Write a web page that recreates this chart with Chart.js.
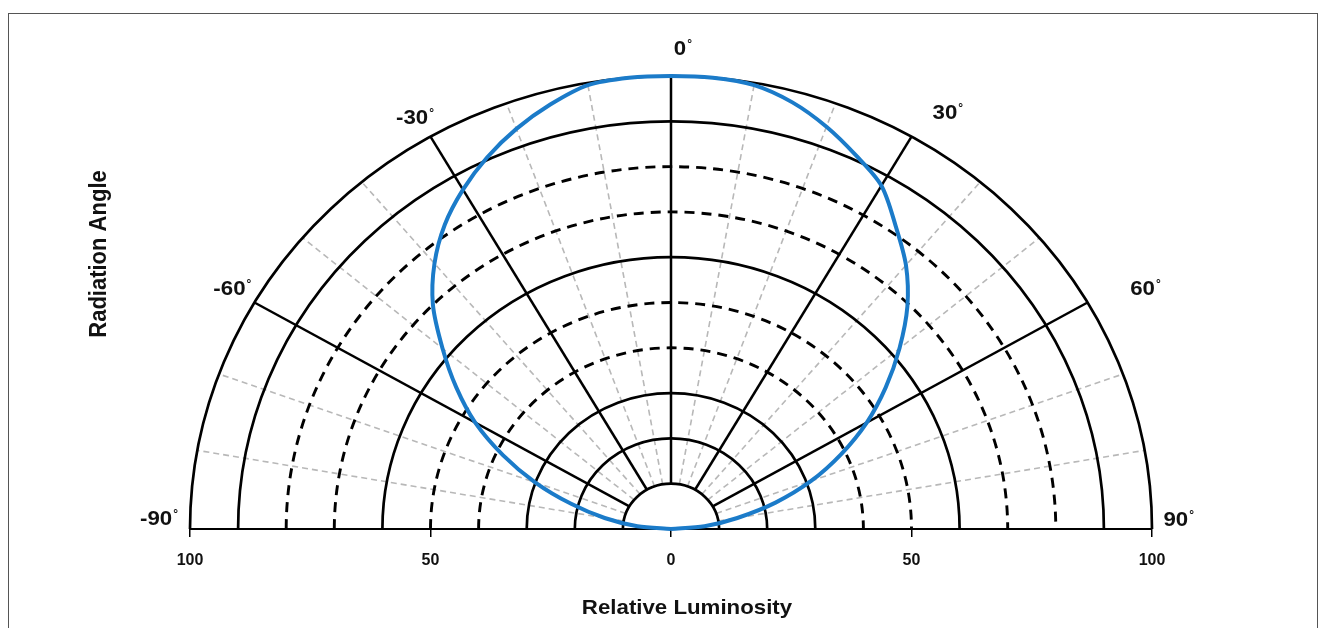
<!DOCTYPE html>
<html>
<head>
<meta charset="utf-8">
<title>Radiation pattern</title>
<script src="https://cdn.jsdelivr.net/npm/chart.js@4.4.1/dist/chart.umd.min.js"></script>
<style>
    html, body { margin: 0; padding: 0; background: #fff; }
    canvas { display: block; }
</style>
</head>
<body>
<canvas id="patternChart" width="1320" height="628"></canvas>
<script>
// Radiation pattern: angle (deg) -> relative luminosity (%)
const angles = [-90, -85, -80, -75, -70, -65, -60, -55, -50, -45, -40, -35, -30, -25, -20, -15, -10, -5,
    0, 5, 10, 15, 20, 25, 30, 35, 40, 45, 50, 55, 60, 65, 70, 75, 80, 85, 90];
const luminosity = [0, 7, 14, 21.5, 30, 38.5, 47, 54.5, 62, 70, 76.5, 82, 86.5, 90.5, 94, 97, 99.5, 100,
    100, 100, 99.5, 97.5, 94.5, 91, 87.5, 81.5, 76, 69.5, 62, 54.5, 47, 39, 31, 22.5, 14, 7, 0];

// Grid rings (luminosity) and spokes (angle)
const solidRings = [10, 20, 30, 60, 90, 100];
const dashedRings = [40, 50, 70, 80];
const mainSpokes = [-60, -30, 0, 30, 60];
const minorSpokes = [-80, -70, -50, -40, -20, -10, 10, 20, 40, 50, 70, 80];
const angleLabels = [-90, -60, -30, 0, 30, 60, 90];
const rangeTicks = [-100, -50, 0, 50, 100];

const FONT = '"Liberation Sans", Arial, sans-serif';
const STRETCH = 1.06; // the source image is a bit wider than tall

const toRad = d => d * Math.PI / 180;

// polar -> cartesian in data units
const patternPoints = angles.map((a, i) => ({
    x: luminosity[i] * Math.sin(toRad(a)),
    y: luminosity[i] * Math.cos(toRad(a))
}));

// Polar grid drawn under the curve
const polarGrid = {
    id: 'polarGrid',
    beforeDatasetsDraw(chart) {
        const { ctx, scales: { x, y } } = chart;
        const cx = x.getPixelForValue(0);
        const cy = y.getPixelForValue(0);
        const pt = (r, deg) => [
            x.getPixelForValue(r * Math.sin(toRad(deg))),
            y.getPixelForValue(r * Math.cos(toRad(deg)))
        ];
        const inner = solidRings[0];
        const outer = solidRings[solidRings.length - 1];

        const ring = r => {
            ctx.beginPath();
            ctx.ellipse(cx, cy, x.getPixelForValue(r) - cx, cy - y.getPixelForValue(r), 0, Math.PI, 2 * Math.PI);
            ctx.stroke();
        };
        const spoke = d => {
            const [x0, y0] = pt(inner, d);
            const [x1, y1] = pt(outer, d);
            ctx.beginPath();
            ctx.moveTo(x0, y0);
            ctx.lineTo(x1, y1);
            ctx.stroke();
        };

        ctx.save();
        // light grey dashed spokes
        ctx.strokeStyle = '#b8b8b8';
        ctx.lineWidth = 1.6;
        ctx.setLineDash([6, 4]);
        minorSpokes.forEach(spoke);

        // dashed rings
        ctx.strokeStyle = '#000';
        ctx.lineWidth = 2.9;
        ctx.setLineDash([10, 7]);
        dashedRings.forEach(ring);

        // solid rings + main spokes
        ctx.setLineDash([]);
        ctx.lineWidth = 2.7;
        solidRings.forEach(ring);
        ctx.lineWidth = 2.5;
        mainSpokes.forEach(spoke);
        ctx.restore();
    }
};

// draw text slightly stretched horizontally like the source
const drawText = (ctx, text, px, py, font, rotate) => {
    ctx.save();
    ctx.translate(px, py);
    ctx.scale(STRETCH, 1);
    if (rotate) ctx.rotate(rotate);
    ctx.font = font;
    ctx.textAlign = 'center';
    ctx.textBaseline = 'middle';
    ctx.fillText(text, 0, 0);
    ctx.restore();
};

// small nudges so the angle labels sit where they are in the source
const labelNudge = { '-90': [-5, -10], '-30': [-4, 5], '0': [9, 0], '30': [19, 0], '60': [30, 0], '90': [-5, -9] };

const polarLabels = {
    id: 'polarLabels',
    afterDraw(chart) {
        const { ctx, scales: { x, y } } = chart;
        ctx.save();
        ctx.fillStyle = '#111';

        angleLabels.forEach(d => {
            const n = labelNudge[d] || [0, 0];
            const px = x.getPixelForValue(106 * Math.sin(toRad(d))) + n[0];
            const py = y.getPixelForValue(106 * Math.cos(toRad(d))) + n[1];
            const numFont = '700 21px ' + FONT;
            drawText(ctx, String(d), px, py, numFont);
            ctx.font = numFont;
            const w = ctx.measureText(String(d)).width * STRETCH;
            ctx.font = '700 12px ' + FONT;
            ctx.textAlign = 'left';
            ctx.textBaseline = 'alphabetic';
            ctx.fillText('\u00B0', px + w / 2 + 1, py - 1);
        });

        drawText(ctx, 'Relative Luminosity', 687, 608, '700 21px ' + FONT);
        drawText(ctx, 'Radiation Angle', 100, 254, '700 22px ' + FONT, -Math.PI / 2);

        // outer frame
        ctx.strokeStyle = '#555';
        ctx.lineWidth = 1;
        ctx.strokeRect(8.5, 13.5, 1309, 700);
        ctx.restore();
    }
};

const ctx = document.getElementById('patternChart').getContext('2d');
new Chart(ctx, {
    type: 'scatter',
    data: {
        datasets: [{
            label: 'Relative Luminosity',
            data: patternPoints,
            showLine: true,
            borderColor: '#1b7bc9',
            borderWidth: 4,
            pointRadius: 0,
            tension: 0.3,
            fill: false,
            clip: false
        }]
    },
    options: {
        responsive: false,
        animation: false,
        layout: { padding: { left: 190, right: 168, top: 76, bottom: 0 } },
        plugins: {
            legend: { display: false },
            tooltip: { enabled: false }
        },
        scales: {
            x: {
                type: 'linear',
                min: rangeTicks[0],
                max: rangeTicks[rangeTicks.length - 1],
                afterFit: scale => { scale.height = 99; },
                afterBuildTicks: scale => { scale.ticks = rangeTicks.map(v => ({ value: v })); },
                ticks: {
                    color: '#111',
                    padding: 14,
                    font: { family: FONT, size: 16, weight: 'bold' },
                    callback: v => Math.abs(v)
                },
                grid: {
                    drawOnChartArea: false,
                    drawTicks: true,
                    tickLength: 8,
                    color: '#000',
                    lineWidth: 1.5
                },
                border: { display: true, color: '#000', width: 2 }
            },
            y: {
                type: 'linear',
                min: 0,
                max: 100,
                display: false
            }
        }
    },
    plugins: [polarGrid, polarLabels]
});
</script>
</body>
</html>
